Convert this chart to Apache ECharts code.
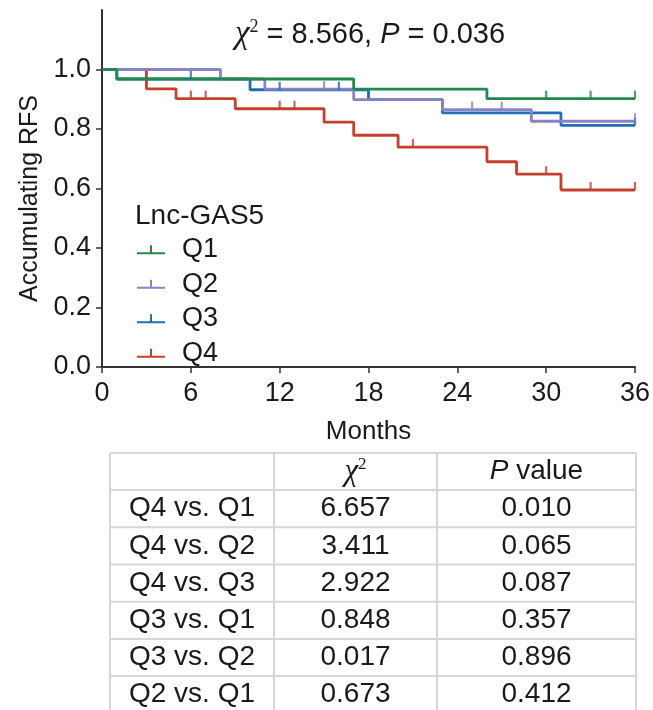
<!DOCTYPE html>
<html><head><meta charset="utf-8">
<script src="https://cdn.jsdelivr.net/npm/echarts@6/dist/echarts.min.js"></script>
<style>html,body{margin:0;padding:0;background:#fff}#c{width:653px;height:710px}</style>
</head><body><div id="c"></div>
<script>
// ---- data ----
const groups = ['Q1', 'Q2', 'Q3', 'Q4'];
const q1Times = [0, 1, 17, 26, 36];
const q1Surv  = [1.0, 0.968, 0.934, 0.902, 0.902];
const q1Censor = [30, 33, 36];
const q2Times = [0, 8, 11, 17, 23, 29, 36];
const q2Surv  = [1.0, 0.968, 0.934, 0.899, 0.865, 0.826, 0.826];
const q2Censor = [15, 25, 27, 36];
const q3Times = [0, 1, 10, 18, 23, 31, 36];
const q3Surv  = [1.0, 0.968, 0.932, 0.899, 0.854, 0.812, 0.812];
const q3Censor = [6, 12, 16, 36];
const q4Times = [0, 3, 5, 9, 15, 17, 20, 26, 28, 31, 36];
const q4Surv  = [1.0, 0.935, 0.902, 0.868, 0.823, 0.779, 0.739, 0.690, 0.648, 0.595, 0.595];
const q4Censor = [6, 7, 12, 13, 21, 30, 33, 36];
const xTicks = [0, 6, 12, 18, 24, 30, 36];
const yTicks = [0, 0.2, 0.4, 0.6, 0.8, 1.0];
const comparisons = ['Q4 vs. Q1', 'Q4 vs. Q2', 'Q4 vs. Q3', 'Q3 vs. Q1', 'Q3 vs. Q2', 'Q2 vs. Q1'];
const chiValues = ['6.657', '3.411', '2.922', '0.848', '0.017', '0.673'];
const pValues = ['0.010', '0.065', '0.087', '0.357', '0.896', '0.412'];
const overallChi = '8.566';
const overallP = '0.036';

// ---- styles ----
const colors = ['#23874F', '#8A82C2', '#1E6FB4', '#C4402C'];
const txt = '#1a1a1a';
const FONT = 'Liberation Sans, Arial, sans-serif';

const timesAll = [q1Times, q2Times, q3Times, q4Times];
const survAll = [q1Surv, q2Surv, q3Surv, q4Surv];
const censAll = [q1Censor, q2Censor, q3Censor, q4Censor];

function survAt(times, surv, t) {
  let v = surv[0];
  for (let i = 0; i < times.length; i++) if (times[i] <= t) v = surv[i];
  return v;
}

const series = [];
groups.forEach((g, i) => {
  series.push({
    name: g, type: 'line', step: 'end', symbol: 'none', showSymbol: false,
    data: timesAll[i].map((t, k) => [t, survAll[i][k]]),
    lineStyle: { color: colors[i], width: 2.8 }, itemStyle: { color: colors[i] },
    z: 10 - i, silent: true, emphasis: { disabled: true }
  });
  series.push({
    name: g + ' censored', type: 'scatter', symbol: 'rect', symbolSize: [2.2, 8], symbolOffset: [0, -4],
    data: censAll[i].map(t => [t, survAt(timesAll[i], survAll[i], t)]),
    itemStyle: { color: colors[i] }, z: 20 - i, silent: true, emphasis: { disabled: true }
  });
});

// ---- table ----
const colX = [110, 274, 437, 636];
const rowY = [453, 490, 527.3, 564.5, 601.7, 639, 676, 713];
const lineC = '#d6d6d6';
const graphics = [];
rowY.forEach(y => graphics.push({ type: 'line', shape: { x1: colX[0], y1: y, x2: colX[3], y2: y }, style: { stroke: lineC, lineWidth: 2 }, silent: true }));
colX.forEach(x => graphics.push({ type: 'line', shape: { x1: x, y1: rowY[0], x2: x, y2: rowY[rowY.length - 1] }, style: { stroke: lineC, lineWidth: 2 }, silent: true }));
function cellCenter(c, r) { return [(colX[c] + colX[c + 1]) / 2, (rowY[r] + rowY[r + 1]) / 2]; }
const baseText = { fontSize: 28, fontFamily: FONT, fill: txt, align: 'center', verticalAlign: 'middle' };
{
  const [x1, y1] = cellCenter(1, 0);
  graphics.push({ type: 'text', x: x1, y: y1, silent: true, style: Object.assign({}, baseText, {
    text: '{c|χ}{s|2}', rich: { c: { fontFamily: 'Liberation Serif, serif', fontStyle: 'italic', fontSize: 31, fill: txt }, s: { fontFamily: 'Liberation Serif, serif', fontSize: 17, verticalAlign: 'top', fill: txt } } }) });
  const [x2, y2] = cellCenter(2, 0);
  graphics.push({ type: 'text', x: x2, y: y2, silent: true, style: Object.assign({}, baseText, {
    text: '{i|P}{n| value}', rich: { i: { fontStyle: 'italic', fontFamily: FONT, fontSize: 28, fill: txt }, n: { fontFamily: FONT, fontSize: 28, fill: txt } } }) });
}
comparisons.forEach((name, r) => {
  const vals = [name, chiValues[r], pValues[r]];
  vals.forEach((v, c) => {
    const [x, y] = cellCenter(c, r + 1);
    graphics.push({ type: 'text', x: x, y: y, silent: true, style: Object.assign({}, baseText, { text: v }) });
  });
});

const chart = echarts.init(document.getElementById('c'), null, { renderer: 'canvas' });
chart.setOption({
  animation: false,
  backgroundColor: '#fff',
  textStyle: { fontFamily: FONT },
  title: [
    {
      left: 365, top: 13, textAlign: 'center',
      text: '{c|χ}{s|2}{n| = ' + overallChi + ', }{i|P}{n| = ' + overallP + '}',
      textStyle: { fontWeight: 'normal', rich: {
        c: { fontFamily: 'Liberation Serif, serif', fontStyle: 'italic', fontWeight: 'normal', fontSize: 33, color: txt },
        s: { fontFamily: 'Liberation Serif, serif', fontWeight: 'normal', fontSize: 18, verticalAlign: 'top', color: txt },
        n: { fontFamily: FONT, fontWeight: 'normal', fontSize: 29, color: txt },
        i: { fontFamily: FONT, fontStyle: 'italic', fontWeight: 'normal', fontSize: 29, color: txt }
      } }
    },
    { left: 130, top: 197, text: 'Lnc-GAS5', textStyle: { fontFamily: FONT, fontSize: 28, fontWeight: 'normal', color: txt } }
  ],
  legend: {
    data: groups, orient: 'vertical', left: 132, top: 230, itemGap: 5,
    itemWidth: 28, itemHeight: 9,
    icon: 'path://M0,7L13,7L13,0L15,0L15,7L28,7L28,9L0,9Z',
    textStyle: { fontSize: 27, color: txt, fontFamily: FONT, lineHeight: 29.5, padding: [0, 0, 0, 12] },
    selectedMode: false
  },
  grid: { left: 102, right: 18, top: 10, bottom: 343, outerBoundsMode: 'none' },
  xAxis: {
    type: 'value', min: 0, max: 36, interval: 6,
    name: 'Months', nameLocation: 'middle', nameGap: 52,
    nameTextStyle: { fontSize: 26, color: txt, fontFamily: FONT },
    axisLine: { lineStyle: { color: '#333', width: 2 } },
    axisTick: { show: true, length: 6, lineStyle: { color: '#333', width: 1.5 }, customValues: xTicks },
    axisLabel: { fontSize: 27, color: txt, margin: 13, customValues: xTicks },
    splitLine: { show: false }
  },
  yAxis: {
    type: 'value', min: 0, max: 1.2, interval: 0.2,
    name: 'Accumulating RFS', nameLocation: 'middle', nameGap: 56,
    nameTextStyle: { fontSize: 25, color: txt, fontFamily: FONT, padding: [0, 20, 0, 0] },
    axisLine: { show: true, lineStyle: { color: '#333', width: 2 } },
    axisTick: { show: true, length: 6, lineStyle: { color: '#333', width: 1.5 }, customValues: yTicks },
    axisLabel: { fontSize: 27, color: txt, margin: 11, customValues: yTicks, formatter: v => Number(v).toFixed(1) },
    splitLine: { show: false }
  },
  graphic: graphics,
  series: series
});
</script>
</body></html>
